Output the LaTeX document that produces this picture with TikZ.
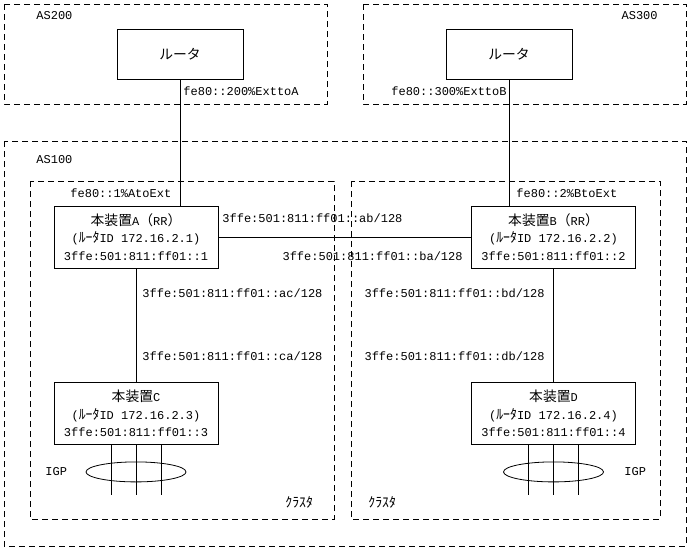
\documentclass[tikz,border=0pt]{standalone}
\usepackage{fontspec}
\setmainfont{Liberation Mono}
\newfontfamily\jp[Scale=1.15]{Noto Sans CJK JP}
\begin{document}
\begin{tikzpicture}[x=1pt,y=-1pt,line width=0.8pt,
  font=\fontsize{12}{17.5}\selectfont,
  area/.style={dash pattern=on 6pt off 4pt},
  router/.style={draw,minimum width=126pt,minimum height=50pt,inner sep=0pt},
  device/.style={draw,minimum width=164pt,minimum height=62pt,align=center,inner sep=0pt},
  lbl/.style={inner sep=0pt}]
  \useasboundingbox (0,0) rectangle (688,549);
  % AS areas and clusters
  \draw[area] (4,4) rectangle (327,104);
  \draw[area] (363,4) rectangle (686,104);
  \draw[area] (4,141) rectangle (686,546);
  \draw[area] (30,181) rectangle (334,519);
  \draw[area] (351,181) rectangle (660,519);
  \node[lbl,anchor=west] (as200) at (36,16) {AS200};
  \node[lbl,anchor=east] (as300) at (658,16) {AS300};
  \node[lbl,anchor=west] (as100) at (36,160) {AS100};
  % routers
  \node[router] (r200) at (180,54) {\jp ルータ};
  \node[router] (r300) at (509,54) {\jp ルータ};
  \node[device] (nA) at (136,237)
    {{\jp 本装置}A{\jp （}RR{\jp ）}\\({\jp ﾙｰﾀ}ID 172.16.2.1)\\3ffe:501:811:ff01::1};
  \node[device] (nB) at (553.5,237)
    {{\jp 本装置}B{\jp （}RR{\jp ）}\\({\jp ﾙｰﾀ}ID 172.16.2.2)\\3ffe:501:811:ff01::2};
  \node[device] (nC) at (136,413.5)
    {{\jp 本装置}C\\({\jp ﾙｰﾀ}ID 172.16.2.3)\\3ffe:501:811:ff01::3};
  \node[device] (nD) at (553.5,413.5)
    {{\jp 本装置}D\\({\jp ﾙｰﾀ}ID 172.16.2.4)\\3ffe:501:811:ff01::4};
  % links
  \draw (r200.south) -- (r200.south |- nA.north);
  \draw (r300.south) -- (r300.south |- nB.north);
  \draw (nA) -- (nB);
  \draw (nA) -- (nC);
  \draw (nB) -- (nD);
  % addresses
  \node[lbl,anchor=west] (ext200) at (183,91) {fe80::200\%ExttoA};
  \node[lbl,anchor=east] (ext300) at (507,91) {fe80::300\%ExttoB};
  \node[lbl,anchor=west] (extA) at (70,193) {fe80::1\%AtoExt};
  \node[lbl,anchor=west] (extB) at (516,193) {fe80::2\%BtoExt};
  \node[lbl,anchor=west] (ab) at (222,218) {3ffe:501:811:ff01::ab/128};
  \node[lbl,anchor=east] (ba) at (463,256) {3ffe:501:811:ff01::ba/128};
  \node[lbl,anchor=west] (ac) at (142,293) {3ffe:501:811:ff01::ac/128};
  \node[lbl,anchor=west] (ca) at (142,356) {3ffe:501:811:ff01::ca/128};
  \node[lbl,anchor=east] (bd) at (545,293) {3ffe:501:811:ff01::bd/128};
  \node[lbl,anchor=east] (db) at (545,356) {3ffe:501:811:ff01::db/128};
  % IGP
  \foreach \dx in {-25,0,25} {
    \draw ([xshift=\dx pt]nC.south) -- ++(0,50);
    \draw ([xshift=\dx pt]nD.south) -- ++(0,50);
  }
  \draw ([yshift=-27pt]nC.south) ellipse [x radius=50pt,y radius=10pt];
  \draw ([yshift=-27pt]nD.south) ellipse [x radius=50pt,y radius=10pt];
  \node[lbl,anchor=west] (igpC) at (45,472) {IGP};
  \node[lbl,anchor=west] (igpD) at (624,472) {IGP};
  \node[lbl,anchor=west] (clA) at (285,502) {\jp ｸﾗｽﾀ};
  \node[lbl,anchor=west] (clB) at (368,502) {\jp ｸﾗｽﾀ};
\end{tikzpicture}
\end{document}
